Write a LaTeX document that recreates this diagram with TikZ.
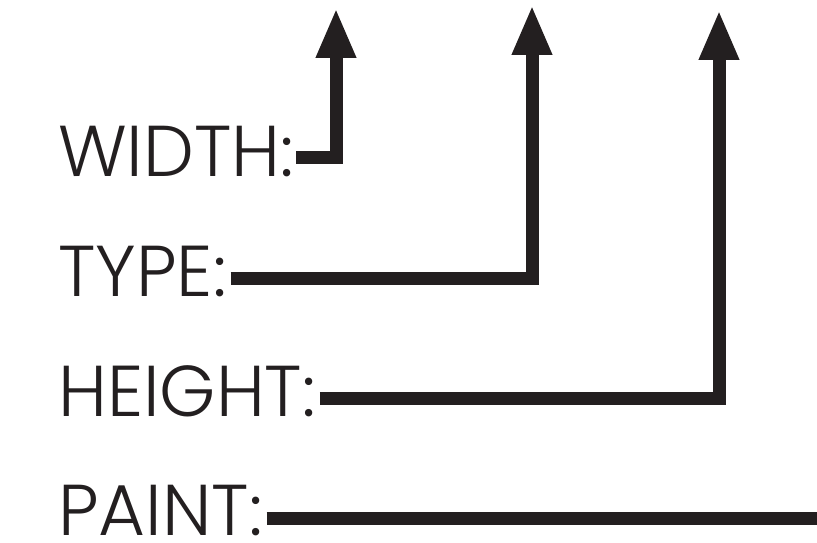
\documentclass[tikz,border=0pt]{standalone}
\usepackage{fontspec}
\setmainfont{Poppins Light}
\usepackage{xcolor}
\definecolor{SpecInk}{HTML}{231F20}
\usetikzlibrary{arrows.meta,positioning,calc}

\begin{document}
\begin{tikzpicture}[
  x=1pt,y=1pt,
  field/.style={anchor=base west,inner sep=0pt,text=SpecInk,font=\fontsize{72}{72}\selectfont},
  lead/.style={draw=SpecInk,line width=13pt},
  pointer/.style={lead,-{Triangle[length=50pt,width=37pt]}}
]
  \useasboundingbox (0,0) rectangle (817,542);
  \node[field] (width) at (58,366) {WIDTH:};
  \node[field] (type) at (58,246) {TYPE:};
  \node[field] (height) at (58,126) {HEIGHT:};
  \node[field] (paint) at (58,7) {PAINT:};
  \coordinate (widthTip) at (336,534);
  \coordinate (typeTip) at (532,537);
  \coordinate (heightTip) at (719,532);
  \coordinate (paintEnd) at (817,24);
  \draw[pointer] ($(width.base east)+(2,18)$) -| (widthTip);
  \draw[pointer] ($(type.base east)+(4,18)$) -| (typeTip);
  \draw[pointer] ($(height.base east)+(4,18)$) -| (heightTip);
  \draw[lead] ($(paint.base east)+(4,17)$) -- (paintEnd);
\end{tikzpicture}
\end{document}
